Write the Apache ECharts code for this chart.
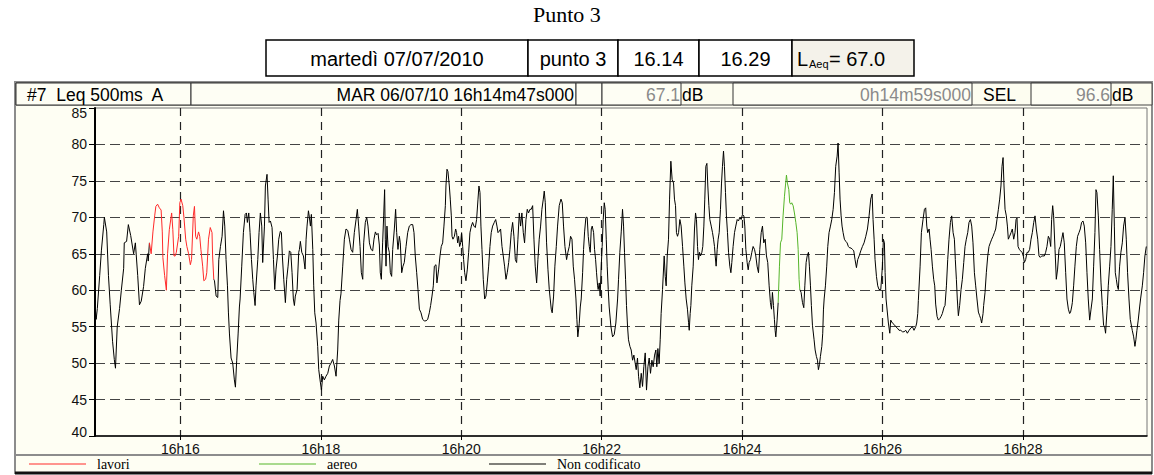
<!DOCTYPE html>
<html>
<head>
<meta charset="utf-8">
<script src="https://cdn.jsdelivr.net/npm/echarts@6/dist/echarts.min.js"></script>
<style>
  html, body { margin: 0; padding: 0; background: #fff; }
  #chart { width: 1154px; height: 475px; }
</style>
</head>
<body>
<div id="chart"></div>
<script>
// inizio misura: 16h14m47s, durata 14m59s (secondi dall'inizio della giornata)
const startSec = 16 * 3600 + 14 * 60 + 47
const durationSec = 14 * 60 + 59
const xTickLabels = ['16h16', '16h18', '16h20', '16h22', '16h24', '16h26', '16h28']
const yTickLabels = [40, 45, 50, 55, 60, 65, 70, 75, 80, 85]

// tempi in secondi dall'inizio, valori Leq 500ms in dB(A)
// Non codificato - primo tratto
const nonCodT1 = [0, 1, 2, 4, 5.5, 7.5, 8, 10, 11.5, 13, 15, 16.5, 17.5, 19, 21, 22.5, 24.5, 25, 27, 28.5, 30.5, 33, 34.5, 36.5, 38, 39.5, 41.5, 43, 45, 45.5, 46.5]
const nonCodV1 = [58, 56, 57.5, 62, 65.5, 69, 70, 68, 62, 58, 53, 50.5, 49.3, 55, 57.5, 60, 63, 66.5, 66.7, 69, 67.5, 65, 66.5, 62, 58, 58.5, 60.5, 63, 65, 64, 66.5]

// lavori
const lavoriT = [46.5, 48, 49.5, 51, 52, 53.5, 55, 56.5, 57.5, 58, 59.5, 61, 62, 63.5, 65.5, 66.5, 67.5, 68.5, 69.5, 71.5, 72.5, 73.5, 75, 76, 77.5, 78.5, 80, 81.5, 82.5, 84, 85, 86, 87, 88.5, 89.5, 90.5, 92, 93, 94.5, 95.5, 97, 98.5, 100, 100.5, 101.5]
const lavoriV = [66.5, 65, 68, 70.2, 71.5, 71.8, 71.3, 71, 68, 64.5, 62, 60, 65, 68.3, 70.6, 68.3, 64.7, 64.7, 65.2, 67.4, 72, 72.5, 71.6, 70, 67, 66, 65, 63.5, 64.2, 70.2, 71.5, 67.4, 67, 68, 67.4, 65.6, 63.3, 61.3, 61.5, 62.4, 67, 68.6, 67.9, 64.7, 61.5]

// Non codificato - secondo tratto
const nonCodT2 = [101.5, 102.1, 103.5, 104.9, 105.8, 107.2, 108.6, 109.8, 110.9, 112.0, 113.2, 114.0, 114.9, 116.3, 117.7, 119.1, 120.0, 121.1, 122.3, 123.4, 124.0, 125.4, 126.8, 128.3, 129.4, 130.2, 131.4, 132.5, 133.7, 134.8, 135.7, 136.8, 137.6, 139.1, 140.2, 141.3, 142.5, 143.3, 144.8, 145.6, 147.0, 147.9, 148.8, 149.9, 151.3, 152.5, 153.6, 154.7, 155.9, 157.0, 158.4, 159.3, 160.1, 161.3, 162.7, 163.8, 165.0, 166.1, 167.3, 168.4, 169.5, 170.4, 171.2, 172.7, 174.1,
  174.7, 175.5, 176.7, 178.1, 179.5, 180.4, 181.2, 182.4, 183.2, 184.1, 184.9, 186.1, 186.9, 187.8, 188.9, 190.3, 191.2, 192.3, 193.5, 194.6, 196.0, 197.4, 198.9, 200.3, 201.7, 203.1, 204.6, 206.0, 207.4, 208.3, 209.4, 210.2, 211.7, 213.1, 214.5, 216.0, 217.4, 218.8, 220.2, 221.6, 223.1, 224.2, 225.3, 226.5, 227.6, 228.8, 229.6, 231.0, 232.2, 233.3, 234.5, 235.9, 237.3, 238.4, 239.6, 240.7, 241.9, 243.0, 243.8, 244.7, 245.8, 246.7, 247.5, 248.1, 248.7, 249.5, 250.4, 251.5, 252.4, 253.5, 254.4, 255.8, 256.9, 257.8, 258.9, 260.1, 260.9, 262.1, 263.2, 264.3, 265.8, 267.2, 268.6, 270.0, 271.5, 272.6, 273.7, 274.9, 276.0, 277.2, 278.6, 280.0, 281.4, 282.9, 284.3, 285.7, 286.8, 288.0, 289.1, 290.0, 291.4, 292.2, 293.7, 294.8, 295.9, 297.1, 298.2, 299.4, 299.9, 300.8, 301.6, 302.8, 303.6, 304.5, 305.1, 305.9, 307.1, 308.2, 309.0, 309.9, 310.7, 311.6, 312.5, 313.3, 314.2, 315.0, 315.9, 317.0, 318.2, 319.3, 320.4, 321.6, 322.7, 323.8, 325.0, 326.1, 327.3, 328.1, 329.0, 329.8, 330.7, 331.8, 333.0, 334.1, 335.2, 336.4, 337.5, 338.6, 339.8, 341.2, 342.4, 343.5, 344.4, 345.5, 346.6, 347.8, 348.9, 350.0, 351.2, 352.3, 353.5, 354.6, 355.7, 356.9, 358.0, 359.2, 360.3, 361.4, 362.6, 363.7, 364.8, 366.0, 367.1, 368.3, 369.4, 370.5, 371.7, 372.8, 374.0, 375.1, 376.2, 377.4, 378.5, 379.6, 380.8, 381.9, 383.1, 383.9, 384.8, 385.9, 387.1, 388.2, 389.0, 389.9, 390.7, 391.9, 393.0, 394.2, 395.3, 396.7, 398.2, 399.3, 400.4, 401.6, 403.0, 404.1, 405.3, 406.4, 407.6, 408.7, 409.8, 411.0, 411.8, 412.6, 413.8,
  414.7, 415.5, 416.7, 417.5, 418.4, 419.5, 420.6, 421.5, 422.4, 423.2, 424.1, 424.9, 426.1, 426.9, 427.8, 428.6, 429.5, 430.0, 430.9, 431.7, 432.6, 433.4, 434.3, 435.2, 436.0, 436.9, 437.7, 438.6, 439.4, 440.9, 442.3, 443.7, 445.1, 446.6, 447.4, 448.5, 449.7, 450.8, 451.7, 452.5, 453.4, 454.2, 455.1, 455.9, 457.1, 458.2, 459.4, 460.5, 461.6, 462.5, 463.6, 464.5, 465.6, 466.8, 467.9, 469.0, 470.2, 471.3, 472.5, 473.6, 474.7, 475.9, 477.0, 478.2, 479.3, 480.1, 481.0, 482.1, 483.0, 483.8, 485.0, 486.4, 487.3, 488.1, 489.0, 490.1, 491.0, 492.1, 493.2, 494.4, 495.2, 496.1, 496.9, 497.8, 498.7, 499.8, 500.9, 502.1, 503.2, 504.1, 505.2, 506.3, 507.2, 507.8, 508.6, 509.2, 510.0, 511.2, 512.3, 513.2, 514.0, 514.9, 515.7, 516.6, 517.4, 518.6, 519.4, 520.3, 521.1, 522.0, 522.9, 523.7, 524.6, 525.4, 526.6, 527.7, 528.6, 529.4, 530.0, 530.8, 531.7, 532.5, 533.4, 534.5, 535.4, 536.2, 537.1, 537.9, 538.8, 539.6, 540.5, 541.4, 542.5, 543.4, 544.2, 545.3, 546.5, 547.6, 548.8, 549.9, 551.0, 552.2, 553.3, 554.5, 555.3, 556.2, 557.3, 558.2, 559.0, 560.1, 561.3, 562.4, 563.6, 564.7, 565.8, 567.0, 568.1, 569.3, 570.4, 571.5, 572.7, 573.8, 574.9, 576.1, 577.2, 578.1, 578.9, 579.8, 580.6, 581.2, 581.8, 582.9, 583.8]
const nonCodV2 = [61.5, 61.3, 59.2, 59, 64.2, 66, 67.4, 70.9, 68.8, 64.2, 60.6, 57, 54, 50.7, 50, 47.7, 46.7, 50.4, 54, 57.7, 58.8, 63.3, 67.9, 70.4, 70.6, 69.3, 70.6, 67.9, 64.2, 61.5, 59.7, 57.9, 60.6, 64.2, 67.9, 70.6, 68.8, 63.8, 68.8, 74.3, 75.9, 72.5, 69.3, 69.5, 68.6, 64.2, 60.1, 62.9, 64.7, 67, 68.1, 67.9, 64.7, 61.5, 58.3, 61.5, 63.3, 65.4, 65.2, 62.4, 58.8, 57.9, 59.2, 60.1, 65.2,
  65.6, 66.7, 65.2, 64.7, 62.9, 67, 68.8, 70.9, 70, 68.8, 70.4, 65.6, 60.6, 56.9, 55.5, 52.3, 49.1, 47.7, 46.3, 48.2, 47.7, 48.2, 48.6, 49.6, 50, 50.5, 49.6, 48.2, 51.8, 55.9, 58.6, 59.5, 63.3, 67, 68.4, 68.2, 67, 65.6, 65.2, 67.9, 69.7, 71.1, 68.8, 66, 62.4, 61.5, 66.5, 69.3, 70, 68.8, 66.5, 65.6, 65.4, 67, 68, 67.6, 67.8, 66.2, 62.4, 61.5, 66.5, 70.2, 73.8, 67, 63.3, 68.8, 66, 65.2, 62.4, 61.9, 65.6, 68.4, 71.1, 67.9, 65.6, 67.4, 66.5, 62.4, 63.3, 63.8, 66, 67.9, 68.8, 69, 69, 67.9, 64.7, 62.4, 60.1, 57.4, 56.9, 56, 55.8, 55.8, 56, 56.9, 57.9, 59.2, 60.6, 63.3, 63.5, 61, 62.9, 64.7, 66, 66.5, 68.8, 71.6, 74.3, 76.6, 76.3, 74.3, 72.5, 70.2, 67.4, 67, 67.4, 68.4, 67.9, 66.5, 67.4, 66, 66.5, 67.9, 66, 64.2, 62.4, 61.3, 62.9, 65.2, 67.9, 68.8, 69.3, 68.8, 68.6, 69.7, 72.5, 74.3, 73.4, 68.8, 65.6, 61.5, 58.8, 59.2, 61, 63.3, 66, 67.9, 68.8, 69.3, 69.7, 68.8, 67.9, 68.1, 68.4, 66, 64.7, 63.3, 61.5, 62.4, 63.8, 65.6, 67.9, 69.3, 67.4, 64.2, 63.8, 67, 70.6, 68.8, 70.6, 67.9, 66.5, 69.7, 71.1, 70.6, 71.1, 71.1, 71.6, 67, 63.3, 61, 64.2, 67, 68.8, 71.1, 72.5, 73.6, 72, 66.5, 62.8, 60.1, 58.8, 57.4, 56.9, 59.2, 63.3, 66, 68.8, 71.6, 72.5, 72, 68.8, 66, 64.2, 65.2, 66, 67.4, 67, 63.3, 61.5, 58.8, 56, 53.6, 55.4,
  57.7, 58.8, 62.4, 65.6, 68, 70, 70, 67.4, 66, 65.2, 68.4, 68.8, 67.9, 65.6, 64.2, 62.4, 60.6, 60.1, 61, 59.2, 63.3, 66, 69.7, 72, 71.1, 67, 63.3, 60.1, 57.7, 55, 53.6, 53.9, 55.5, 58.8, 61.5, 65.2, 68, 71.1, 68.8, 65.2, 61.5, 57.9, 55, 53.2, 52.3, 51.8, 50.4, 51.1, 50, 49.1, 50.7, 48.2, 46.6, 48.6, 46.8, 49.5, 51.4, 46.3, 49.5, 50.7, 48.6, 50.4, 49.5, 51.1, 51.8, 49.5, 52, 50, 53.2, 56.8, 60.1, 64.7, 61.9, 60.6, 64.7, 67, 72.5, 77.7, 75.2, 74.7, 72.5, 71.6, 67.9, 67.4, 67.9, 69.7, 68.8, 66, 63.3, 61, 58.8, 57.4, 55.6, 54.5, 56.8, 57.9, 60.6, 63.3, 68.4, 70.6, 69.7, 66, 64.2, 65.2, 64.7, 65.2, 66, 68.8, 72.5, 77, 77.4, 74.3, 71.6, 69.7, 68.8, 67.9, 67, 66, 64.7, 63.3, 65.6, 67, 67.9, 71.1, 74.7, 77, 79.1, 77, 73.4, 70.2, 67.9, 65.2, 63.3, 62.4, 63.8, 66, 67.9, 68.8, 69.7, 69.5, 70, 69.7, 70.4, 70.2, 68.8, 65.6, 63.8, 62.8, 63.8, 64.2, 65.2, 66, 65.6, 64.7, 63.3, 62.4, 65.6, 67.9, 68.8, 66.5, 67, 64.7, 63.8, 60.6, 58.3, 57.4, 59.7, 57.9, 56, 54.5, 53.6, 55.9, 58.3]

// aereo
const aereoT = [583.8, 584.9, 585.8, 586.9, 588.0, 589.2, 590.0, 590.9, 591.7, 592.9, 593.7, 594.6, 595.4, 596.6, 597.7, 598.9, 600.0, 600.9, 601.7, 602.3]
const aereoV = [58.3, 63.3, 66.5, 67, 70.2, 72.9, 74.3, 75.8, 74.7, 73.8, 72, 71.8, 72, 71.6, 70.6, 69.3, 67.9, 65.6, 61.5, 60.1]

// Non codificato - terzo tratto
const nonCodT3 = [602.3, 603.4, 604.6, 605.7, 606.6, 607.7, 608.6, 609.7, 610.5, 611.4, 612.2, 613.1, 614.5, 615.4, 616.5, 617.4, 618.2, 619.1, 619.9, 621.1, 621.9, 622.5, 623.1, 624.2, 625.3, 626.2, 627.3, 628.5, 629.6, 630.8, 631.9, 633.0, 634.2, 635.0, 635.9, 636.7, 637.6, 638.4, 639.3, 640.4, 641.6, 642.7, 643.8, 645.0, 646.1, 647.3, 648.4, 649.5, 650.7, 651.8, 653.0, 654.4, 655.8, 657.2, 658.7, 660.1, 661.5, 662.9, 664.1, 664.9, 665.8, 666.6, 667.8, 668.9, 670.0, 671.5, 672.9, 673.7, 674.6, 675.2, 676.0, 678.0, 679.2, 680.0, 681.4, 682.9, 684.3, 685.7, 687.1, 688.6, 690.0, 691.4, 692.8, 694.2, 695.7, 697.1, 698.5, 699.9, 701.4, 702.2, 703.1, 703.6, 705.1, 706.2, 707.6, 708.8, 709.9, 710.8, 711.6, 712.8, 713.6, 714.5, 715.6, 716.7, 717.6, 718.4, 719.6, 720.7, 721.9, 723.0, 724.1, 725.6, 726.4, 727.6, 728.7, 729.8, 731.0, 732.1, 733.3, 734.4, 735.2, 736.1, 736.9, 737.8, 738.9, 740.1, 741.2, 742.4, 743.5, 744.6, 745.8, 746.9, 748.1, 749.2, 750.3, 751.5, 752.6, 753.7, 754.9, 756.0, 756.9, 757.7, 758.9, 759.4, 760.6, 761.7, 762.9, 764.0, 765.1, 766.3, 767.4, 768.6, 769.7, 770.8, 772.0, 773.1, 774.2, 775.1, 776.0, 776.8, 777.7, 778.8, 779.7, 780.5, 781.6, 782.8, 783.9, 785.1, 786.2, 787.1, 787.9, 788.8, 789.9, 791.0, 792.2, 793.3, 794.2, 795.3, 796.5, 797.6, 798.7, 799.9, 801.0, 802.2, 803.3, 804.4, 805.6, 806.7, 807.8, 809.0, 810.1, 811.3, 812.4, 813.5, 814.7, 815.8, 816.7, 817.5, 818.4, 819.2, 820.4, 821.5, 822.6, 823.8, 824.9, 826.1, 827.2, 828.3, 829.5, 830.6, 831.8, 832.9, 833.7, 834.6, 835.2, 836.3, 837.4, 838.6, 839.7, 840.9, 842.0, 843.1, 844.3, 845.4, 846.6, 847.7, 848.8, 850.0, 851.1, 852.3, 853.4, 854.5, 855.4, 856.2, 857.4, 858.5, 859.7, 860.8, 861.9, 862.8, 863.6, 865.1, 865.9, 867.1, 868.2, 869.3, 870.2, 871.1, 871.9, 872.8, 873.6, 874.5, 875.6, 876.7, 877.9, 879.0, 880.2, 881.3, 882.4, 883.6, 884.7, 886.4, 887.6, 888.7, 889.5, 890.4, 891.5, 892.7, 893.5, 895.0, 896.1, 897.2, 898.4]
const nonCodV3 = [60.1, 59.7, 58.3, 57.6, 60.6, 63.8, 64.7, 65.2, 63.3, 60.6, 57.9, 55.2, 53.2, 51.8, 50.9, 50.4, 49.1, 49.8, 50.9, 52.3, 54.1, 57.3, 58.8, 60.6, 63.3, 66, 67.9, 68.8, 69.7, 71.1, 73.4, 77, 78.4, 80.2, 76.1, 72.5, 70.2, 68.8, 67.9, 67, 66.7, 66.5, 66, 65.8, 65.8, 65.6, 65.4, 64.2, 63.1, 64.2, 64.7, 65.4, 66, 66.5, 67.4, 68.4, 70.2, 72.5, 73.2, 69.7, 67, 64.2, 61.9, 60.6, 60.1, 60.1, 63.3, 67, 66.5, 62.4, 58.8, 55.5, 54.1, 55.9, 55.5, 55.3, 55, 54.8, 54.5, 54.5, 54.3, 54.3, 54.5, 54.1, 54.5, 54.8, 55, 54.5, 55, 55.5, 56.8, 58.6, 63.3, 67.9, 69.7, 71.1, 71.3, 68.8, 67.9, 68.4, 67, 65.6, 63.3, 61.5, 60.6, 58.1, 56.4, 55.9, 56.1, 56.4, 56.8, 57.7, 57.9, 60.6, 64.2, 67, 69.3, 70.2, 67.9, 67, 64.2, 61.5, 58.8, 56.5, 57.9, 60.1, 61.5, 63.8, 66, 67, 67.9, 69.3, 69.7, 68.8, 66.5, 62.4, 60.6, 58.8, 57, 56.5, 56.1, 55.5, 56.8, 57.9, 59.7, 62.4, 64.7, 66, 66.5, 67, 67.4, 67.9, 68.4, 69.7, 71.1, 72.5, 74.3, 77, 78.2, 74.3, 71.1, 70.2, 68.8, 67, 67.4, 67.9, 68.4, 67, 67.9, 69.7, 69.9, 66, 65.6, 65.4, 65.2, 64.7, 63.8, 64.2, 65.2, 65.2, 65.6, 67, 67.9, 69.3, 70.2, 68.4, 67, 64.7, 64.5, 64.7, 64.7, 64.7, 65.2, 66, 67.4, 67, 66, 69.7, 71.6, 70.2, 65.6, 61.5, 62.9, 65.6, 66, 67, 67.9, 66.5, 62.4, 58.8, 57.4, 56.8, 57, 57.7, 58.3, 60.6, 63.3, 66, 67.4, 67.9, 68.4, 69.3, 69.5, 68.8, 66.5, 62.4, 58.8, 55.9, 57.3, 58.8, 63.3, 67.9, 73.8, 73.4, 70.2, 65.6, 61, 57.9, 55.2, 55, 54.1, 57.9, 60.6, 63.3, 66, 71.1, 75.7, 68.8, 62.4, 61.5, 60.6, 60.1, 63.3, 65.2, 66.5, 68.8, 70, 67, 62.4, 58.8, 56, 54.5, 53.6, 52.3, 53.2, 54.5, 55.9, 57.7, 58.8, 60.6, 62.4, 64.7, 66]

function pairs(ts, vs) {
  return ts.map((t, i) => [startSec + t, vs[i]])
}

// valori dei tick dell'asse X ricavati dalle etichette "16h16" ecc.
const xTickValues = xTickLabels.map(s => {
  const p = s.split('h')
  return Number(p[0]) * 3600 + Number(p[1]) * 60
})

// serie nera con interruzioni dove ci sono gli eventi codificati
const nonCodData = pairs(nonCodT1, nonCodV1)
  .concat([[startSec + 74, '-']])
  .concat(pairs(nonCodT2, nonCodV2))
  .concat([[startSec + 593, '-']])
  .concat(pairs(nonCodT3, nonCodV3))

const sans = '"Liberation Sans", Arial, sans-serif'
const serif = '"Liberation Serif", "Times New Roman", serif'

// --- riquadri di intestazione (tabella in alto e barra info) ---
const tableY = 40, tableH = 36
const tableCells = [
  { x0: 266, x1: 528, text: 'martedì 07/07/2010' },
  { x0: 528, x1: 618, text: 'punto 3' },
  { x0: 618, x1: 699, text: '16.14' },
  { x0: 699, x1: 792, text: '16.29' },
  { x0: 792, x1: 914, text: '' }
]
const headY = 83, headH = 22
const headBoxes = [
  [16, 191], [191, 576], [576, 602], [602, 681], [733, 972], [1031, 1111]
]

const graphics = []
// pannello esterno
graphics.push({
  type: 'rect', z: -10, silent: true,
  shape: { x: 15, y: 82, width: 1137, height: 391 },
  style: { fill: '#fefef3', stroke: '#8c8c8c', lineWidth: 2 }
})
graphics.push({
  type: 'line', z: -5, silent: true,
  shape: { x1: 15, y1: 473, x2: 1152, y2: 473 },
  style: { stroke: '#111', lineWidth: 3 }
})
// riga della legenda
graphics.push({
  type: 'line', z: -5, silent: true,
  shape: { x1: 16, y1: 455, x2: 1152, y2: 455 },
  style: { stroke: '#8c8c8c', lineWidth: 2 }
})
// barra info
graphics.push({
  type: 'rect', z: -5, silent: true,
  shape: { x: 16, y: headY, width: 1136, height: headH },
  style: { fill: '#fdfdf0', stroke: '#444', lineWidth: 1 }
})
headBoxes.forEach(b => {
  graphics.push({
    type: 'rect', z: -4, silent: true,
    shape: { x: b[0], y: headY, width: b[1] - b[0], height: headH },
    style: { fill: '#fefef4', stroke: '#333', lineWidth: 1 }
  })
})
const headTexts = [
  { x: 27, text: '#7  Leq 500ms  A', align: 'left', color: '#000' },
  { x: 574, text: 'MAR 06/07/10 16h14m47s000', align: 'right', color: '#000' },
  { x: 680, text: '67.1', align: 'right', color: '#8a8a8a' },
  { x: 682, text: 'dB', align: 'left', color: '#000' },
  { x: 971, text: '0h14m59s000', align: 'right', color: '#8a8a8a' },
  { x: 983, text: 'SEL', align: 'left', color: '#000' },
  { x: 1110, text: '96.6', align: 'right', color: '#8a8a8a' },
  { x: 1112, text: 'dB', align: 'left', color: '#000' }
]
headTexts.forEach(h => {
  graphics.push({
    type: 'text', silent: true,
    style: {
      x: h.x, y: headY + headH / 2 + 1, text: h.text, fill: h.color,
      font: '17.5px ' + sans, textAlign: h.align, textVerticalAlign: 'middle'
    }
  })
})
// tabella
tableCells.forEach((c, i) => {
  graphics.push({
    type: 'rect', silent: true,
    shape: { x: c.x0, y: tableY, width: c.x1 - c.x0, height: tableH },
    style: { fill: i === 4 ? '#f4f2ea' : '#fff', stroke: '#000', lineWidth: 1.5 }
  })
  if (c.text) {
    graphics.push({
      type: 'text', silent: true,
      style: {
        x: (c.x0 + c.x1) / 2, y: tableY + tableH / 2 + 1, text: c.text, fill: '#000',
        font: '20px ' + sans, textAlign: 'center', textVerticalAlign: 'middle'
      }
    })
  }
})
// L con pedice Aeq
graphics.push({
  type: 'text', silent: true,
  style: { x: 797, y: tableY + tableH / 2 + 1, text: 'L', fill: '#000', font: '20px ' + sans, textAlign: 'left', textVerticalAlign: 'middle' }
})
graphics.push({
  type: 'text', silent: true,
  style: { x: 809, y: tableY + tableH / 2 + 6, text: 'Aeq', fill: '#000', font: '11px ' + sans, textAlign: 'left', textVerticalAlign: 'middle' }
})
graphics.push({
  type: 'text', silent: true,
  style: { x: 829, y: tableY + tableH / 2 + 1, text: '= 67.0', fill: '#000', font: '20px ' + sans, textAlign: 'left', textVerticalAlign: 'middle' }
})

const chart = echarts.init(document.getElementById('chart'), null, { renderer: 'svg' })
const option = {
  animation: false,
  backgroundColor: '#fff',
  title: {
    text: 'Punto 3',
    left: 533,
    top: 3,
    padding: 0,
    textStyle: { fontFamily: serif, fontSize: 22, fontWeight: 'normal', color: '#000' }
  },
  legend: [
    { data: ['lavori'], left: 29 },
    { data: ['aereo'], left: 259 },
    { data: ['Non codificato'], left: 489 }
  ].map(l => Object.assign({
    top: 457, padding: 0, icon: 'rect', itemWidth: 57, itemHeight: 1, selectedMode: false,
    textStyle: { fontFamily: serif, fontSize: 14, color: '#000', padding: [0, 0, 0, 6] }
  }, l)),
  grid: {
    left: 95, right: 7, top: 108, bottom: 39,
    show: true, backgroundColor: '#fffff5', borderColor: '#777', borderWidth: 1
  },
  xAxis: {
    type: 'value',
    min: startSec,
    max: startSec + durationSec,
    axisLine: { show: true, onZero: false, lineStyle: { color: '#000', width: 1.5 } },
    axisTick: { show: true, length: 4, customValues: xTickValues, lineStyle: { color: '#000' } },
    axisLabel: {
      customValues: xTickValues, margin: 6,
      fontFamily: sans, fontSize: 14, color: '#111',
      formatter: v => xTickLabels[xTickValues.indexOf(v)]
    },
    splitLine: { show: true, lineStyle: { type: [8, 6], color: '#222', width: 1.2 } }
  },
  yAxis: {
    type: 'value',
    min: yTickLabels[0],
    max: yTickLabels[yTickLabels.length - 1],
    interval: 5,
    axisLine: { show: true, lineStyle: { color: '#000', width: 2 } },
    axisTick: { show: true, length: 6, lineStyle: { color: '#000' } },
    axisLabel: {
      margin: 8, fontFamily: sans, fontSize: 14, color: '#111',
      // la prima e l'ultima etichetta stanno dentro il riquadro
      formatter: v => v === yTickLabels[yTickLabels.length - 1] ? '{top|' + v + '}'
        : v === yTickLabels[0] ? '{bot|' + v + '}' : String(v),
      rich: {
        top: { fontFamily: sans, fontSize: 14, color: '#111', padding: [10, 0, 0, 0] },
        bot: { fontFamily: sans, fontSize: 14, color: '#111', padding: [0, 0, 8, 0] }
      }
    },
    splitLine: { show: true, showMinLine: false, showMaxLine: false, lineStyle: { type: [10, 5], color: '#444', width: 1.2 } }
  },
  series: [
    {
      name: 'lavori', type: 'line', data: pairs(lavoriT, lavoriV),
      showSymbol: false, color: '#ff2a2a', lineStyle: { width: 1, color: '#ff2a2a' }, z: 3
    },
    {
      name: 'aereo', type: 'line', data: pairs(aereoT, aereoV),
      showSymbol: false, color: '#55b52a', lineStyle: { width: 1, color: '#55b52a' }, z: 3
    },
    {
      name: 'Non codificato', type: 'line', data: nonCodData, connectNulls: false,
      showSymbol: false, color: '#000', lineStyle: { width: 1, color: '#000' }, z: 2
    }
  ],
  graphic: { elements: graphics }
}
chart.setOption(option)
</script>
</body>
</html>
